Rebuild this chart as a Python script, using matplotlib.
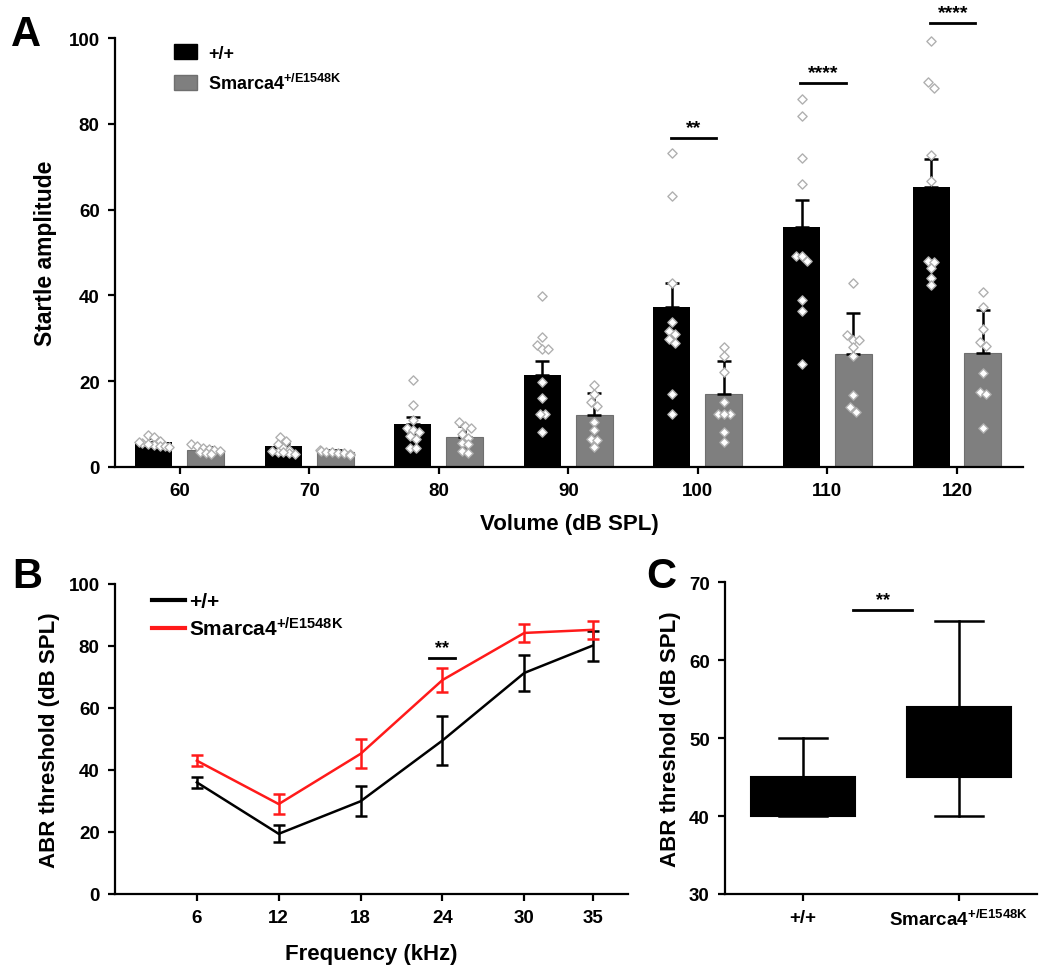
# %% imports

import numpy as np
import matplotlib.pyplot as plt
from matplotlib.patches import Patch
from matplotlib.lines import Line2D

plt.rcParams['font.family'] = ['Liberation Sans', 'DejaVu Sans']
plt.rcParams['font.weight'] = 'bold'
plt.rcParams['axes.labelweight'] = 'bold'
plt.rcParams['mathtext.fontset'] = 'custom'
plt.rcParams['mathtext.bf'] = 'Liberation Sans:bold'
plt.rcParams['mathtext.rm'] = 'Liberation Sans:bold'
plt.rcParams['mathtext.default'] = 'bf'
plt.rcParams['axes.linewidth'] = 1.6

# %% data

WT_LABEL = '+/+'
MUT_LABEL = r'Smarca4$^{+/E1548K}$'

# panel A - startle amplitude
volumes = [60, 70, 80, 90, 100, 110, 120]
wt_mean = [5.8, 4.8, 10.0, 21.4, 37.2, 55.9, 65.2]
wt_sem = [0.9, 0.9, 1.6, 3.2, 5.8, 6.3, 6.6]
mut_mean = [4.0, 3.6, 7.1, 12.1, 17.0, 26.3, 26.5]
mut_sem = [0.6, 0.3, 2.5, 5.1, 7.6, 9.6, 10.2]

wt_pts = [
    [7.5, 7.0, 6.0, 5.5, 5.2, 5.0, 4.8, 5.3, 5.8, 4.6],
    [7.1, 6.1, 5.4, 4.5, 4.0, 3.5, 3.2, 3.0, 3.4, 3.8],
    [20.3, 14.5, 11.0, 9.0, 8.7, 8.2, 7.2, 6.6, 4.4, 4.4],
    [39.9, 30.2, 28.4, 27.6, 27.5, 19.7, 16.0, 12.4, 12.4, 8.1],
    [73.2, 63.2, 43.0, 33.9, 31.8, 31.0, 29.8, 28.8, 17.0, 12.4],
    [85.9, 81.9, 72.0, 66.1, 49.1, 48.1, 49.1, 39.0, 36.3, 24.0],
    [99.3, 89.7, 88.3, 72.7, 66.7, 48.1, 47.7, 46.5, 44.1, 42.5],
]
mut_pts = [
    [5.3, 4.8, 4.5, 4.2, 4.0, 3.8, 3.5, 3.2, 3.0],
    [3.9, 3.8, 3.6, 3.5, 3.3, 3.2, 3.0, 2.8],
    [10.6, 9.5, 9.0, 7.8, 6.8, 5.5, 5.4, 3.7, 3.3],
    [19.1, 17.0, 15.1, 14.3, 10.4, 8.6, 6.5, 6.3, 4.6],
    [27.9, 25.9, 22.1, 15.1, 12.4, 12.4, 12.4, 8.1, 5.9],
    [43.0, 30.8, 29.7, 29.5, 27.9, 25.9, 16.8, 13.9, 12.9],
    [40.9, 37.2, 32.2, 29.1, 28.1, 21.8, 17.4, 17.0, 9.0],
]
sig_a_vol = [100, 110, 120]
sig_a_txt = ['**', '****', '****']
sig_a_y = [76.8, 89.5, 103.6]

# panel B - ABR threshold by frequency
freqs = [6, 12, 18, 24, 30, 35]
b_wt = [36.0, 19.4, 29.9, 49.5, 71.3, 80.1]
b_wt_err = [1.8, 2.7, 4.9, 8.0, 5.9, 4.8]
b_mut = [43.0, 29.0, 45.2, 69.0, 84.2, 85.2]
b_mut_err = [1.7, 3.2, 4.7, 3.9, 3.0, 3.0]
sig_b_freq = 24
sig_b_y = 76.0

# panel C - ABR threshold box plot (whislo, q1, med, q3, whishi)
c_groups = [WT_LABEL, MUT_LABEL]
c_whislo = [40, 40]
c_q1 = [40, 45]
c_med = [42.5, 50]
c_q3 = [45, 54]
c_whishi = [50, 65]
sig_c_y = 66.5

# %% helpers

def spread(vals, thr, step, lim):
    # column-scatter style horizontal offsets for points close in y
    order = np.argsort(vals)[::-1]
    offs = np.zeros(len(vals))
    cluster = []
    for i in order:
        if cluster and vals[cluster[0]] - vals[i] > thr:
            n = len(cluster)
            offs[cluster] = np.clip((np.arange(n) - (n - 1) / 2) * step, -lim, lim)
            cluster = []
        cluster.append(i)
    n = len(cluster)
    offs[cluster] = np.clip((np.arange(n) - (n - 1) / 2) * step, -lim, lim)
    return offs


def style(ax):
    for s in ['top', 'right']:
        ax.spines[s].set_visible(False)
    ax.tick_params(direction='out', length=5, width=1.6, labelsize=13.5, pad=6)

# %% figure

fig = plt.figure(figsize=(10.5, 9.78), dpi=100)

# ---- A
axA = fig.add_axes([0.1095, 0.5215, 0.8648, 0.4385])
x = np.array(volumes, dtype=float)
dx = 2.0
bw = 2.86
axA.bar(x - dx, wt_mean, bw, color='black', zorder=2)
axA.bar(x + dx, mut_mean, bw, color='#7f7f7f', edgecolor='#6f6f6f', lw=0.8, zorder=2)
axA.errorbar(x - dx, wt_mean, yerr=[np.zeros(len(x)), wt_sem], fmt='none',
             ecolor='black', elinewidth=1.8, capsize=5, capthick=1.8, zorder=3)
axA.errorbar(x + dx, mut_mean, yerr=[np.zeros(len(x)), mut_sem], fmt='none',
             ecolor='black', elinewidth=1.8, capsize=5, capthick=1.8, zorder=3)
for i, v in enumerate(volumes):
    for pts, sgn in [(wt_pts[i], -1), (mut_pts[i], 1)]:
        pts = np.array(pts)
        xo = v + sgn * dx + spread(pts, 1.6, 0.45, 1.15)
        axA.scatter(xo, pts, marker='D', s=22, facecolor='white',
                    edgecolor='#b0b0b0', linewidth=1.0, zorder=4, clip_on=False)
for v, t, yy in zip(sig_a_vol, sig_a_txt, sig_a_y):
    axA.plot([v - dx - 0.1, v + dx - 0.6], [yy, yy], color='black', lw=2,
             clip_on=False)
    axA.text(v - 0.3, yy + 0.4, t, ha='center', va='bottom', fontsize=14,
             fontweight='bold')
axA.set_xlim(55, 125.1)
axA.set_ylim(0, 100)
axA.set_xticks(volumes)
axA.set_yticks(np.arange(0, 101, 20))
axA.set_xlabel('Volume (dB SPL)', fontsize=16, labelpad=10)
axA.set_ylabel('Startle amplitude', fontsize=16.5, labelpad=8)
style(axA)
axA.legend(handles=[Patch(color='black', label=WT_LABEL),
                    Patch(facecolor='#7f7f7f', edgecolor='#6f6f6f', label=MUT_LABEL)],
           loc='upper left', bbox_to_anchor=(0.047, 1.025), frameon=False,
           fontsize=13, handlelength=1.3, handleheight=0.95, handletextpad=0.6,
           labelspacing=0.6)

# ---- B
axB = fig.add_axes([0.1095, 0.0849, 0.4886, 0.317])
axB.errorbar(freqs, b_wt, yerr=b_wt_err, color='black', lw=1.8,
             elinewidth=1.8, capsize=4.5, capthick=1.8, label=WT_LABEL)
axB.errorbar(freqs, b_mut, yerr=b_mut_err, color='#ff1a1a', lw=1.8,
             elinewidth=1.8, capsize=4.5, capthick=1.8, label=MUT_LABEL)
axB.plot([sig_b_freq - 1.0, sig_b_freq + 0.95], [sig_b_y, sig_b_y], color='black', lw=2)
axB.text(sig_b_freq, sig_b_y + 0.6, '**', ha='center', va='bottom', fontsize=13)
axB.set_xlim(0, 37.6)
axB.set_ylim(0, 100)
axB.set_xticks(freqs)
axB.set_yticks(np.arange(0, 101, 20))
axB.set_xlabel('Frequency (kHz)', fontsize=16, labelpad=12)
axB.set_ylabel('ABR threshold (dB SPL)', fontsize=16, labelpad=6)
style(axB)
axB.legend(handles=[Line2D([], [], color='black', lw=3, label=WT_LABEL),
                    Line2D([], [], color='#ff1a1a', lw=3, label=MUT_LABEL)],
           loc='upper left', bbox_to_anchor=(0.035, 1.035), frameon=False,
           fontsize=15, handlelength=1.6, handletextpad=0.2, labelspacing=0.25)

# ---- C
axC = fig.add_axes([0.6905, 0.0849, 0.297, 0.3187])
stats = [dict(label=g, whislo=a, q1=b, med=c, q3=d, whishi=e)
         for g, a, b, c, d, e in zip(c_groups, c_whislo, c_q1, c_med, c_q3, c_whishi)]
axC.bxp(stats, positions=[1, 2], widths=0.67, showfliers=False, patch_artist=True,
        boxprops=dict(facecolor='black', edgecolor='black', lw=1.5),
        medianprops=dict(color='black', lw=1.5),
        whiskerprops=dict(color='black', lw=1.8),
        capprops=dict(color='black', lw=1.8), capwidths=0.31)
axC.plot([1.32, 1.70], [sig_c_y, sig_c_y], color='black', lw=2)
axC.text(1.51, sig_c_y + 0.2, '**', ha='center', va='bottom', fontsize=13)
axC.set_xlim(0.5, 2.5)
axC.set_ylim(30, 70)
axC.set_yticks(np.arange(30, 71, 10))
axC.set_ylabel('ABR threshold (dB SPL)', fontsize=16, labelpad=6)
style(axC)

# panel letters
fig.text(0.010, 0.985, 'A', fontsize=30, fontweight='bold', va='top')
fig.text(0.012, 0.430, 'B', fontsize=30, fontweight='bold', va='top')
fig.text(0.615, 0.430, 'C', fontsize=30, fontweight='bold', va='top')

fig.savefig('out.png', dpi=100)
